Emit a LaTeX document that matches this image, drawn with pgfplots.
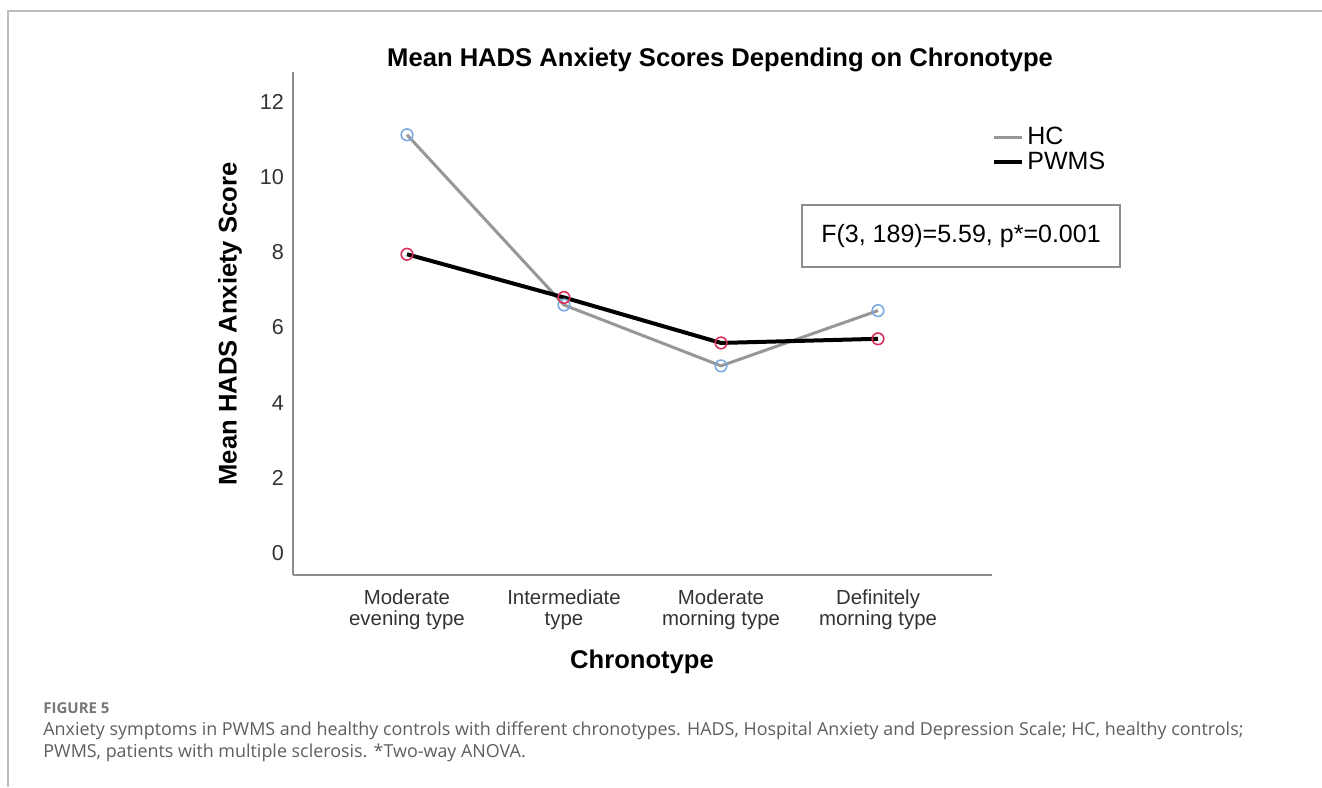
\documentclass[border=0pt]{standalone}
\usepackage{pgfplots}
\pgfplotsset{compat=1.18}
\usepackage{fontspec}
\setmainfont{Liberation Sans}
\newfontfamily\capfont{Open Sans}
\definecolor{hcline}{HTML}{979797}
\definecolor{hcmark}{HTML}{7AAAE0}
\definecolor{pwmark}{HTML}{DC2F5A}
\definecolor{axgray}{HTML}{8C8C8C}
\definecolor{tickgray}{HTML}{333333}
\definecolor{framegray}{HTML}{BDBDBD}
\definecolor{capgray}{HTML}{5E5E5E}
\definecolor{figgray}{HTML}{777777}
\pgfplotstableread{
x y
0 11.13
1 6.60
2 4.98
3 6.45
}\hcdata
\pgfplotstableread{
x y
0 7.95
1 6.80
2 5.59
3 5.70
}\pwdata
\begin{document}
\begin{tikzpicture}
\useasboundingbox (0,0) rectangle (661pt,393.5pt);
\draw[framegray, line width=1pt] (4pt,0) -- (4pt,388pt) -- (661pt,388pt);
\begin{axis}[
  at={(146.5pt,106pt)}, anchor=south west,
  scale only axis, width=349.5pt, height=251.5pt,
  xmin=-0.726, xmax=3.726, ymin=-0.585, ymax=12.8,
  axis x line=bottom, axis y line=left,
  axis line style={-, draw=axgray, line width=0.6pt},
  major tick length=0pt,
  xtick={0,1,2,3},
  xticklabels={{Moderate\\evening type},{Intermediate\\type},{Moderate\\morning type},{Definitely\\morning type}},
  xticklabel style={align=center, font=\fontsize{10.2}{10.2}\selectfont, text=tickgray, yshift=-4pt},
  ytick={0,2,4,6,8,10,12},
  yticklabel style={font=\fontsize{10.8}{12}\selectfont, text=tickgray, xshift=-1pt},
  /pgf/number format/assume math mode=true,
  title={Mean HADS Anxiety Scores Depending on Chronotype},
  every axis title/.style={at={(rel axis cs:0.611,1.0239)}, anchor=center, font=\bfseries\fontsize{12.8}{14}\selectfont},
  xlabel={Chronotype},
  every axis x label/.style={at={(rel axis cs:0.4993,-0.173)}, anchor=center, font=\bfseries\fontsize{12.8}{14}\selectfont},
  ylabel={Mean HADS Anxiety Score},
  every axis y label/.style={at={(rel axis cs:-0.0901,0.499)}, rotate=90, anchor=center, font=\bfseries\fontsize{12.8}{14}\selectfont},
  legend style={at={(rel axis cs:1.0,0.897)}, anchor=north west, draw=none, fill=none,
    font=\fontsize{12.5}{13}\selectfont, inner sep=0pt, row sep=-1pt,
    nodes={inner sep=1.5pt}},
  legend cell align=left,
  legend image code/.code={\draw[#1] (0pt,0pt) -- (14pt,0pt);},
  clip=false,
]
\addplot[hcline, line width=1.5pt, mark=o, mark size=2.9pt, mark options={hcmark, line width=0.8pt, solid}] table[x=x,y=y] {\hcdata};
\addlegendentry{HC}
\addplot[black, line width=2pt, mark=o, mark size=2.9pt, mark options={pwmark, line width=0.8pt, solid}] table[x=x,y=y] {\pwdata};
\addlegendentry{PWMS}
\end{axis}
\node[draw=axgray, line width=0.6pt, minimum width=159pt, minimum height=31pt, font=\fontsize{12.5}{14}\selectfont] at (480.5pt,275.5pt) {F(3, 189)=5.59, p*=0.001};
\node[anchor=base west, inner sep=0pt, text=figgray, font=\capfont\bfseries\fontsize{7.5}{9}\selectfont] at (21.5pt,37pt) {FIGURE 5};
\node[anchor=base west, inner sep=0pt, text=capgray, font=\capfont\fontsize{8.95}{10}\selectfont] at (21.5pt,26pt) {Anxiety symptoms in PWMS and healthy controls with different chronotypes. HADS, Hospital Anxiety and Depression Scale; HC, healthy controls;};
\node[anchor=base west, inner sep=0pt, text=capgray, font=\capfont\fontsize{8.95}{10}\selectfont] at (21.5pt,15pt) {PWMS, patients with multiple sclerosis. *Two-way ANOVA.};
\end{tikzpicture}
\end{document}
